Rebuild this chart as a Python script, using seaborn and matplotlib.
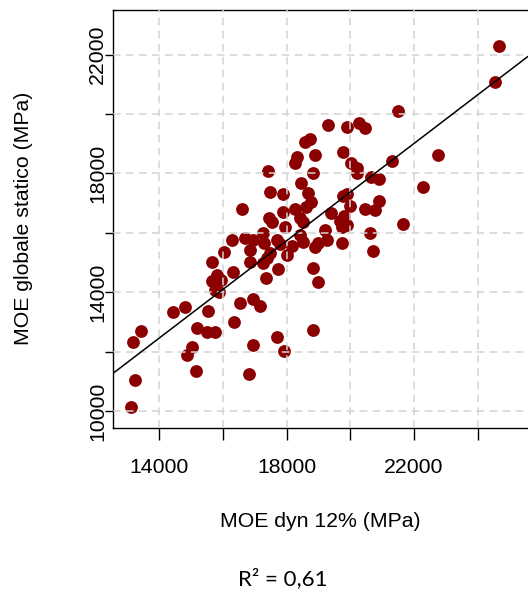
import numpy as np
import pandas as pd
import matplotlib
matplotlib.use("Agg")
import matplotlib.pyplot as plt
import seaborn as sns

# Data
moe_dyn = [24670, 24544, 21498, 19299, 19896, 20273, 20461, 18576, 18734, 18325,
           18262, 18891, 19770, 20021, 20210, 20210, 21309, 20650, 20901, 22754,
           22283, 17414, 18828, 18451, 17477, 17885, 18671, 19896, 19770, 18765,
           18608, 19990, 20461, 20901, 20775, 19393, 19801, 16598, 17446, 17540,
           17885, 18262, 18419, 18514, 17948, 21655, 19676, 19739, 19896, 20618,
           20712, 19739, 19205, 19267, 18985, 16284, 16692, 16943, 17257, 17289,
           17697, 17791, 18419, 18514, 18891, 18168, 16032, 16849, 17477, 17383,
           18011, 16849, 17257, 17728, 18828, 16315, 17351, 18985, 15655, 15812,
           15655, 15938, 15750, 15875, 16535, 16943, 17163, 15530, 14430, 14807,
           16346, 15184, 15498, 15750, 18828, 17697, 13425, 13174, 15027, 14870,
           16943, 17917, 15153, 16817, 13237, 13111]
moe_stat = [22290, 21077, 20101, 19630, 19562, 19697, 19529, 19057, 19158, 18552,
            18350, 18620, 18721, 18350, 18182, 18013, 18418, 17879, 17811, 18620,
            17542, 18081, 18013, 17677, 17374, 17306, 17340, 17306, 17239, 17037,
            16869, 16902, 16801, 17071, 16768, 16667, 16566, 16801, 16498, 16364,
            16700, 16801, 16498, 16364, 16195, 16296, 16397, 16195, 16263, 15993,
            15387, 15657, 16094, 15758, 15657, 15758, 15825, 15758, 15993, 15657,
            15758, 15623, 15926, 15690, 15522, 15556, 15354, 15421, 15320, 15152,
            15253, 15017, 14983, 14781, 14815, 14680, 14478, 14343, 15017, 14579,
            14377, 14411, 14074, 14007, 13636, 13771, 13535, 13367, 13333, 13502,
            12997, 12795, 12660, 12660, 12727, 12492, 12694, 12323, 12155, 11886,
            12222, 12020, 11347, 11246, 11044, 10135]

x_ticks = [14000, 16000, 18000, 20000, 22000, 24000]
x_tick_labels = ["14000", "", "18000", "", "22000", ""]
y_ticks = [10000, 12000, 14000, 16000, 18000, 20000, 22000]
y_tick_labels = ["10000", "", "14000", "", "18000", "", "22000"]
x_label = "MOE dyn 12% (MPa)"
y_label = "MOE globale statico (MPa)"
r2_text = "R² = 0,61"

df = pd.DataFrame({"dyn": moe_dyn, "stat": moe_stat})

sns.set_theme(style="white")
plt.rcParams["font.family"] = ["Liberation Sans", "DejaVu Sans"]

W, H = 528, 593
fig = plt.figure(figsize=(W / 100, H / 100), dpi=100)
left, right, top, bottom = 113, 528, 9.7, 427.7
ax = fig.add_axes([left / W, 1 - bottom / H, (right - left) / W, (bottom - top) / H])

ax.set_xlim(12546, 25581)
ax.set_ylim(9438, 23512)

sns.scatterplot(data=df, x="dyn", y="stat", ax=ax, color="#8B0000",
                s=85, linewidth=0, zorder=1)
sns.regplot(data=df, x="dyn", y="stat", ax=ax, scatter=False, ci=None,
            truncate=False, line_kws={"color": "black", "lw": 1.1, "zorder": 3})

ax.set_xlim(12546, 25581)
ax.set_ylim(9438, 23512)

ax.set_axisbelow(False)
ax.grid(True, color="#d3d3d3", lw=1.1, linestyle=(0, (5, 3.5)), zorder=2.5)

ax.set_xticks(x_ticks)
ax.set_xticklabels(x_tick_labels)
ax.set_yticks(y_ticks)
ax.set_yticklabels(y_tick_labels)

ax.tick_params(axis="x", direction="out", length=8.5, width=1.0, color="black",
               labelsize=15.3, pad=13, labelcolor="black", bottom=True)
ax.tick_params(axis="y", direction="out", length=5.5, width=1.0, color="black",
               labelsize=15.3, pad=5.5, labelcolor="black", left=True)
for lab in ax.get_yticklabels():
    lab.set_rotation(90)
    lab.set_va("center")
    lab.set_ha("center")

for s in ["left", "bottom", "top"]:
    ax.spines[s].set_visible(True)
    ax.spines[s].set_color("black")
    ax.spines[s].set_linewidth(1.0)
ax.spines["right"].set_visible(False)

ax.set_xlabel(x_label, fontsize=15.3, color="black")
ax.set_ylabel(y_label, fontsize=15.3, color="black")
ax.xaxis.set_label_coords(0.5, -(521.7 - bottom) / (bottom - top))
ax.xaxis.label.set_va("center")
ax.yaxis.set_label_coords(-(left - 24) / (right - left), 0.5)
ax.yaxis.label.set_va("center")

fig.text(283 / W, 1 - 579 / H, r2_text, ha="center", va="center",
         fontsize=16, family=["Lato", "DejaVu Sans"], color="black")

fig.savefig("out.png", dpi=100)
